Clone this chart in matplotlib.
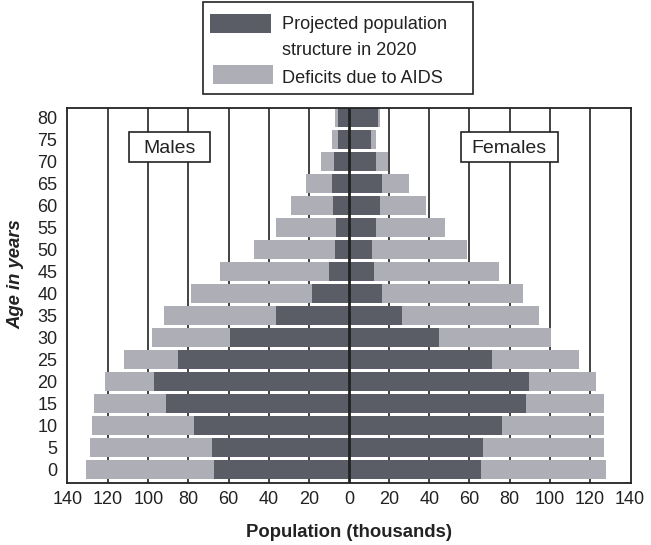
import matplotlib
matplotlib.use("Agg")
import matplotlib.pyplot as plt
from matplotlib.patches import Rectangle

plt.rcParams['font.family'] = ['Liberation Sans', 'DejaVu Sans']

ages = [0, 5, 10, 15, 20, 25, 30, 35, 40, 45, 50, 55, 60, 65, 70, 75, 80]
male_projected = [67.4, 68.4, 77.3, 91.1, 97.1, 85.2, 59.4, 36.2, 18.3, 9.9, 6.9, 6.4, 7.9, 8.4, 7.4, 5.6, 5.6]
male_total = [130.8, 128.8, 127.8, 126.8, 121.8, 111.9, 98.1, 92.1, 78.8, 64.4, 47.1, 36.2, 28.7, 21.3, 13.9, 8.4, 6.9]
female_projected = [65.9, 66.9, 76.3, 88.2, 89.6, 71.3, 44.6, 26.2, 16.3, 12.4, 11.4, 13.4, 15.4, 16.3, 13.4, 10.9, 14.4]
female_total = [127.8, 126.8, 126.8, 126.8, 123.3, 114.4, 100.5, 94.6, 86.7, 74.8, 58.9, 48.0, 38.6, 29.7, 19.3, 13.4, 15.2]
male_deficit = [t - p for t, p in zip(male_total, male_projected)]
female_deficit = [t - p for t, p in zip(female_total, female_projected)]

xticks = [-140, -120, -100, -80, -60, -40, -20, 0, 20, 40, 60, 80, 100, 120, 140]
xticklabels = [str(abs(v)) for v in xticks]
legend_labels = ['Projected population', 'structure in 2020', 'Deficits due to AIDS']

dark = '#5a5c66'
light = '#adaeb6'
ink = '#222222'

fig = plt.figure(figsize=(6.51, 5.45), dpi=100)
ax = fig.add_axes([0.1029, 0.1138, 0.8664, 0.688])

pos = list(range(len(ages)))
h = 0.86
ax.barh(pos, [-v for v in male_projected], height=h, color=dark, zorder=2)
ax.barh(pos, [-v for v in male_deficit], left=[-v for v in male_projected], height=h, color=light, zorder=2)
ax.barh(pos, female_projected, height=h, color=dark, zorder=2)
ax.barh(pos, female_deficit, left=female_projected, height=h, color=light, zorder=2)

for xv in xticks[1:-1]:
    if xv == 0:
        ax.axvline(0, color=ink, lw=2.0, zorder=3)
    else:
        ax.axvline(xv, color=ink, lw=1.2, zorder=1)

ax.set_xlim(-140.5, 140.5)
ax.set_ylim(-0.59, 16.41)
ax.set_xticks(xticks)
ax.set_xticklabels(xticklabels)
ax.set_yticks(pos)
ax.set_yticklabels([str(a) for a in ages])
ax.tick_params(axis='both', length=0, labelsize=13, colors=ink)
ax.tick_params(axis='x', pad=6)
ax.tick_params(axis='y', pad=7)
for s in ax.spines.values():
    s.set_color(ink)
    s.set_linewidth(1.3)

ax.set_xlabel('Population (thousands)', fontsize=13.3, fontweight='bold', color=ink)
ax.xaxis.set_label_coords(0.5, -0.109)
ax.set_ylabel('Age in years', fontsize=13.3, fontweight='bold', fontstyle='italic', color=ink)
ax.yaxis.set_label_coords(-0.076, 0.557)

# Sex label boxes
for (x0, x1, label) in [(-109.5, -69.3, 'Males'), (55.8, 104.0, 'Females')]:
    ax.add_patch(Rectangle((x0, 13.96), x1 - x0, 15.32 - 13.96, facecolor='white',
                           edgecolor=ink, linewidth=1.2, zorder=5))
    ax.text((x0 + x1) / 2, 14.355, label, ha='center', va='baseline', fontsize=14,
            color=ink, zorder=6)

# Legend (drawn in figure coordinates)
fig.patches.append(Rectangle((0.3118, 0.8275), 0.7266 - 0.3118, 0.9963 - 0.8275,
                             transform=fig.transFigure, facecolor='white', edgecolor=ink,
                             linewidth=1.2))
fig.patches.append(Rectangle((0.3226, 0.9394), 0.4163 - 0.3226, 0.9743 - 0.9394,
                             transform=fig.transFigure, facecolor=dark, edgecolor='none'))
fig.patches.append(Rectangle((0.3272, 0.8459), 0.4194 - 0.3272, 0.8807 - 0.8459,
                             transform=fig.transFigure, facecolor=light, edgecolor='none'))
for yb, txt in zip([0.9462, 0.8991, 0.8472], legend_labels):
    fig.text(0.4327, yb, txt, ha='left', va='baseline', fontsize=13.1, color=ink)

fig.savefig('out.png', dpi=100)
